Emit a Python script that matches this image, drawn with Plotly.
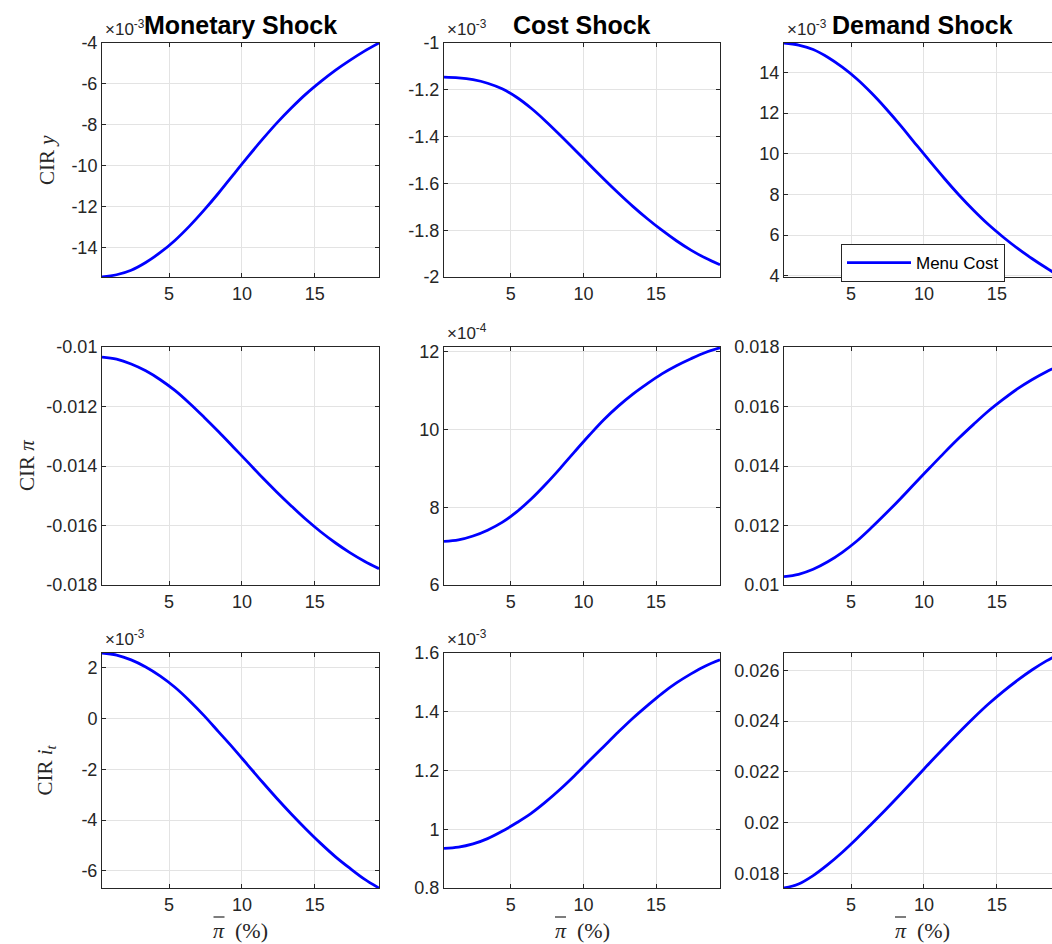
import plotly.graph_objects as go

W, H = 1052, 944

# ---------------- data ----------------
pibar = [0.4, 1.4, 2.4, 3.4, 4.4, 5.4, 6.4, 7.4, 8.4, 9.4,
         10.4, 11.4, 12.4, 13.4, 14.4, 15.4, 16.4, 17.4, 18.4, 19.4]

cir_y_monetary = [-15.44e-3, -15.34e-3, -15.12e-3, -14.74e-3, -14.25e-3, -13.66e-3, -12.96e-3, -12.18e-3, -11.34e-3, -10.45e-3,
                  -9.57e-3, -8.72e-3, -7.91e-3, -7.17e-3, -6.49e-3, -5.89e-3, -5.34e-3, -4.85e-3, -4.40e-3, -4.0e-3]
cir_y_cost = [-1.146e-3, -1.149e-3, -1.157e-3, -1.172e-3, -1.196e-3, -1.232e-3, -1.279e-3, -1.334e-3, -1.394e-3, -1.456e-3,
              -1.519e-3, -1.581e-3, -1.641e-3, -1.698e-3, -1.751e-3, -1.80e-3, -1.845e-3, -1.885e-3, -1.919e-3, -1.948e-3]
cir_y_demand = [15.44e-3, 15.34e-3, 15.12e-3, 14.74e-3, 14.25e-3, 13.67e-3, 12.98e-3, 12.21e-3, 11.38e-3, 10.5e-3,
                9.63e-3, 8.78e-3, 7.97e-3, 7.22e-3, 6.53e-3, 5.92e-3, 5.36e-3, 4.85e-3, 4.38e-3, 3.94e-3]

cir_pi_monetary = [-10.34e-3, -10.41e-3, -10.57e-3, -10.80e-3, -11.10e-3, -11.46e-3, -11.89e-3, -12.36e-3, -12.85e-3, -13.36e-3,
                   -13.87e-3, -14.39e-3, -14.88e-3, -15.35e-3, -15.80e-3, -16.21e-3, -16.58e-3, -16.91e-3, -17.20e-3, -17.45e-3]
cir_pi_cost = [7.12e-4, 7.16e-4, 7.26e-4, 7.41e-4, 7.61e-4, 7.88e-4, 8.21e-4, 8.59e-4, 9.0e-4, 9.43e-4,
               9.85e-4, 10.25e-4, 10.6e-4, 10.91e-4, 11.18e-4, 11.43e-4, 11.64e-4, 11.82e-4, 11.98e-4, 12.1e-4]
cir_pi_demand = [10.28e-3, 10.36e-3, 10.53e-3, 10.78e-3, 11.1e-3, 11.48e-3, 11.93e-3, 12.41e-3, 12.91e-3, 13.43e-3,
                 13.94e-3, 14.45e-3, 14.94e-3, 15.4e-3, 15.84e-3, 16.23e-3, 16.59e-3, 16.9e-3, 17.17e-3, 17.4e-3]

cir_i_monetary = [2.59e-3, 2.51e-3, 2.32e-3, 2.04e-3, 1.68e-3, 1.24e-3, 0.71e-3, 0.12e-3, -0.52e-3, -1.16e-3,
                  -1.83e-3, -2.50e-3, -3.15e-3, -3.77e-3, -4.36e-3, -4.92e-3, -5.44e-3, -5.90e-3, -6.33e-3, -6.68e-3]
cir_i_cost = [0.935e-3, 0.939e-3, 0.950e-3, 0.968e-3, 0.993e-3, 1.022e-3, 1.054e-3, 1.093e-3, 1.136e-3, 1.183e-3,
              1.233e-3, 1.282e-3, 1.331e-3, 1.378e-3, 1.421e-3, 1.462e-3, 1.498e-3, 1.529e-3, 1.556e-3, 1.577e-3]
cir_i_demand = [17.43e-3, 17.59e-3, 17.92e-3, 18.35e-3, 18.84e-3, 19.38e-3, 19.95e-3, 20.53e-3, 21.13e-3, 21.74e-3,
                22.36e-3, 22.96e-3, 23.55e-3, 24.12e-3, 24.66e-3, 25.15e-3, 25.60e-3, 26.01e-3, 26.37e-3, 26.68e-3]

col_titles = ["Monetary Shock", "Cost Shock", "Demand Shock"]
row_titles = ["CIR <i>y</i>", "CIR <i>π</i>", "CIR <i>i</i><sub><i>t</i></sub>"]
row_title_x = [47, 27, 45]
x_title = "<i>π</i>\u2002(%)"
legend_name = "Menu Cost"

x_tickvals = [5, 10, 15]
x_ticktext = ["5", "10", "15"]

panels = [
    # (series, yrange, tickvals, ticktext, exponent)
    (cir_y_monetary, [-15.45e-3, -4.0e-3], [-14e-3, -12e-3, -10e-3, -8e-3, -6e-3, -4e-3],
     ["-14", "-12", "-10", "-8", "-6", "-4"], "-3"),
    (cir_y_cost, [-2e-3, -1e-3], [-2e-3, -1.8e-3, -1.6e-3, -1.4e-3, -1.2e-3, -1e-3],
     ["-2", "-1.8", "-1.6", "-1.4", "-1.2", "-1"], "-3"),
    (cir_y_demand, [3.94e-3, 15.44e-3], [4e-3, 6e-3, 8e-3, 10e-3, 12e-3, 14e-3],
     ["4", "6", "8", "10", "12", "14"], "-3"),
    (cir_pi_monetary, [-0.018, -0.01], [-0.018, -0.016, -0.014, -0.012, -0.01],
     ["-0.018", "-0.016", "-0.014", "-0.012", "-0.01"], None),
    (cir_pi_cost, [6e-4, 12.12e-4], [6e-4, 8e-4, 10e-4, 12e-4],
     ["6", "8", "10", "12"], "-4"),
    (cir_pi_demand, [0.01, 0.018], [0.01, 0.012, 0.014, 0.016, 0.018],
     ["0.01", "0.012", "0.014", "0.016", "0.018"], None),
    (cir_i_monetary, [-6.68e-3, 2.59e-3], [-6e-3, -4e-3, -2e-3, 0, 2e-3],
     ["-6", "-4", "-2", "0", "2"], "-3"),
    (cir_i_cost, [0.8e-3, 1.6e-3], [0.8e-3, 1.0e-3, 1.2e-3, 1.4e-3, 1.6e-3],
     ["0.8", "1", "1.2", "1.4", "1.6"], "-3"),
    (cir_i_demand, [0.01743, 0.02668], [0.018, 0.02, 0.022, 0.024, 0.026],
     ["0.018", "0.02", "0.022", "0.024", "0.026"], None),
]

# ---------------- layout geometry (pixels) ----------------
col_px = [(102, 379), (444, 720), (784, 1052)]
row_px = [(43, 277), (347, 585), (653, 888)]
x_ranges = [[0.4, 19.4], [0.4, 19.4], [0.4, 18.78]]

AX = "#262626"
GRID = "#e3e3e3"
SANS = "Liberation Sans, Arial, sans-serif"
TICKFONT = dict(family=SANS, size=18, color=AX)
SERIF = "Liberation Serif, Times New Roman, serif"

fig = go.Figure()
layout = dict(width=W, height=H, margin=dict(l=0, r=0, t=0, b=0, autoexpand=False),
              paper_bgcolor="white", plot_bgcolor="white", showlegend=True)
annotations = []
shapes = []

for k, (series, yr, tv, tt, expo) in enumerate(panels):
    r, c = divmod(k, 3)
    n = k + 1
    xa = "xaxis" if n == 1 else f"xaxis{n}"
    ya = "yaxis" if n == 1 else f"yaxis{n}"
    xref = "x" if n == 1 else f"x{n}"
    yref = "y" if n == 1 else f"y{n}"
    x0, x1 = col_px[c]
    y0, y1 = row_px[r]
    layout[xa] = dict(domain=[x0 / W, x1 / W], anchor=yref, range=x_ranges[c], automargin=False,
                      tickvals=x_tickvals, ticktext=x_ticktext, tickfont=TICKFONT,
                      showgrid=True, gridcolor=GRID, gridwidth=1,
                      showline=True, linecolor=AX, linewidth=1, mirror="ticks",
                      ticks="inside", ticklen=4, tickcolor=AX, zeroline=False)
    layout[ya] = dict(domain=[1 - y1 / H, 1 - y0 / H], anchor=xref, range=yr, automargin=False,
                      tickvals=tv, ticktext=tt, tickfont=TICKFONT,
                      showgrid=True, gridcolor=GRID, gridwidth=1,
                      showline=True, linecolor=AX, linewidth=1,
                      mirror="ticks" if c < 2 else False,
                      ticks="inside", ticklen=4, tickcolor=AX, zeroline=False)
    fig.add_trace(go.Scatter(x=pibar, y=series, xaxis=xref, yaxis=yref, mode="lines",
                             line=dict(color="#0000ff", width=2.8, shape="spline", smoothing=1.0),
                             name=legend_name, showlegend=(k == 2), cliponaxis=True))
    if expo is not None:
        annotations.append(dict(x=(x0 + 1) / W, y=1 - (y0 - 2) / H, xref="paper", yref="paper",
                                xanchor="left", yanchor="bottom", showarrow=False,
                                text=f"\u00d710<sup>{expo}</sup>",
                                font=dict(family=SANS, size=17, color=AX)))

# column titles and x-axis titles (bar over pi drawn as a short rule)
for c, t in enumerate(col_titles):
    x0, x1 = col_px[c]
    if c == 2:
        x1 = 1060
    xc = (x0 + x1) / 2
    annotations.append(dict(x=xc / W, y=1 - 25 / H, xref="paper", yref="paper",
                            xanchor="center", yanchor="middle", showarrow=False, text=f"<b>{t}</b>",
                            font=dict(family=SANS, size=25, color="black")))
    annotations.append(dict(x=xc / W, y=1 - 930 / H, xref="paper", yref="paper",
                            xanchor="center", yanchor="middle", showarrow=False, text=x_title,
                            font=dict(family=SERIF, size=22, color=AX)))
    shapes.append(dict(type="line", xref="paper", yref="paper",
                       x0=(xc - 27) / W, x1=(xc - 16) / W, y0=1 - 917 / H, y1=1 - 917 / H,
                       line=dict(color=AX, width=1.2)))

# row titles
for r, t in enumerate(row_titles):
    y0, y1 = row_px[r]
    annotations.append(dict(x=row_title_x[r] / W, y=1 - (y0 + y1) / 2 / H, xref="paper", yref="paper",
                            xanchor="center", yanchor="middle", showarrow=False, text=t, textangle=-90,
                            font=dict(family=SERIF, size=21, color=AX)))

layout["annotations"] = annotations
layout["shapes"] = shapes
layout["legend"] = dict(x=841 / W, y=1 - 244 / H, xanchor="left", yanchor="top",
                        bgcolor="white", bordercolor=AX, borderwidth=1,
                        font=dict(family=SANS, size=17, color="black"),
                        itemwidth=64, tracegroupgap=0)
fig.update_layout(**layout)
fig.write_html("out.html")
